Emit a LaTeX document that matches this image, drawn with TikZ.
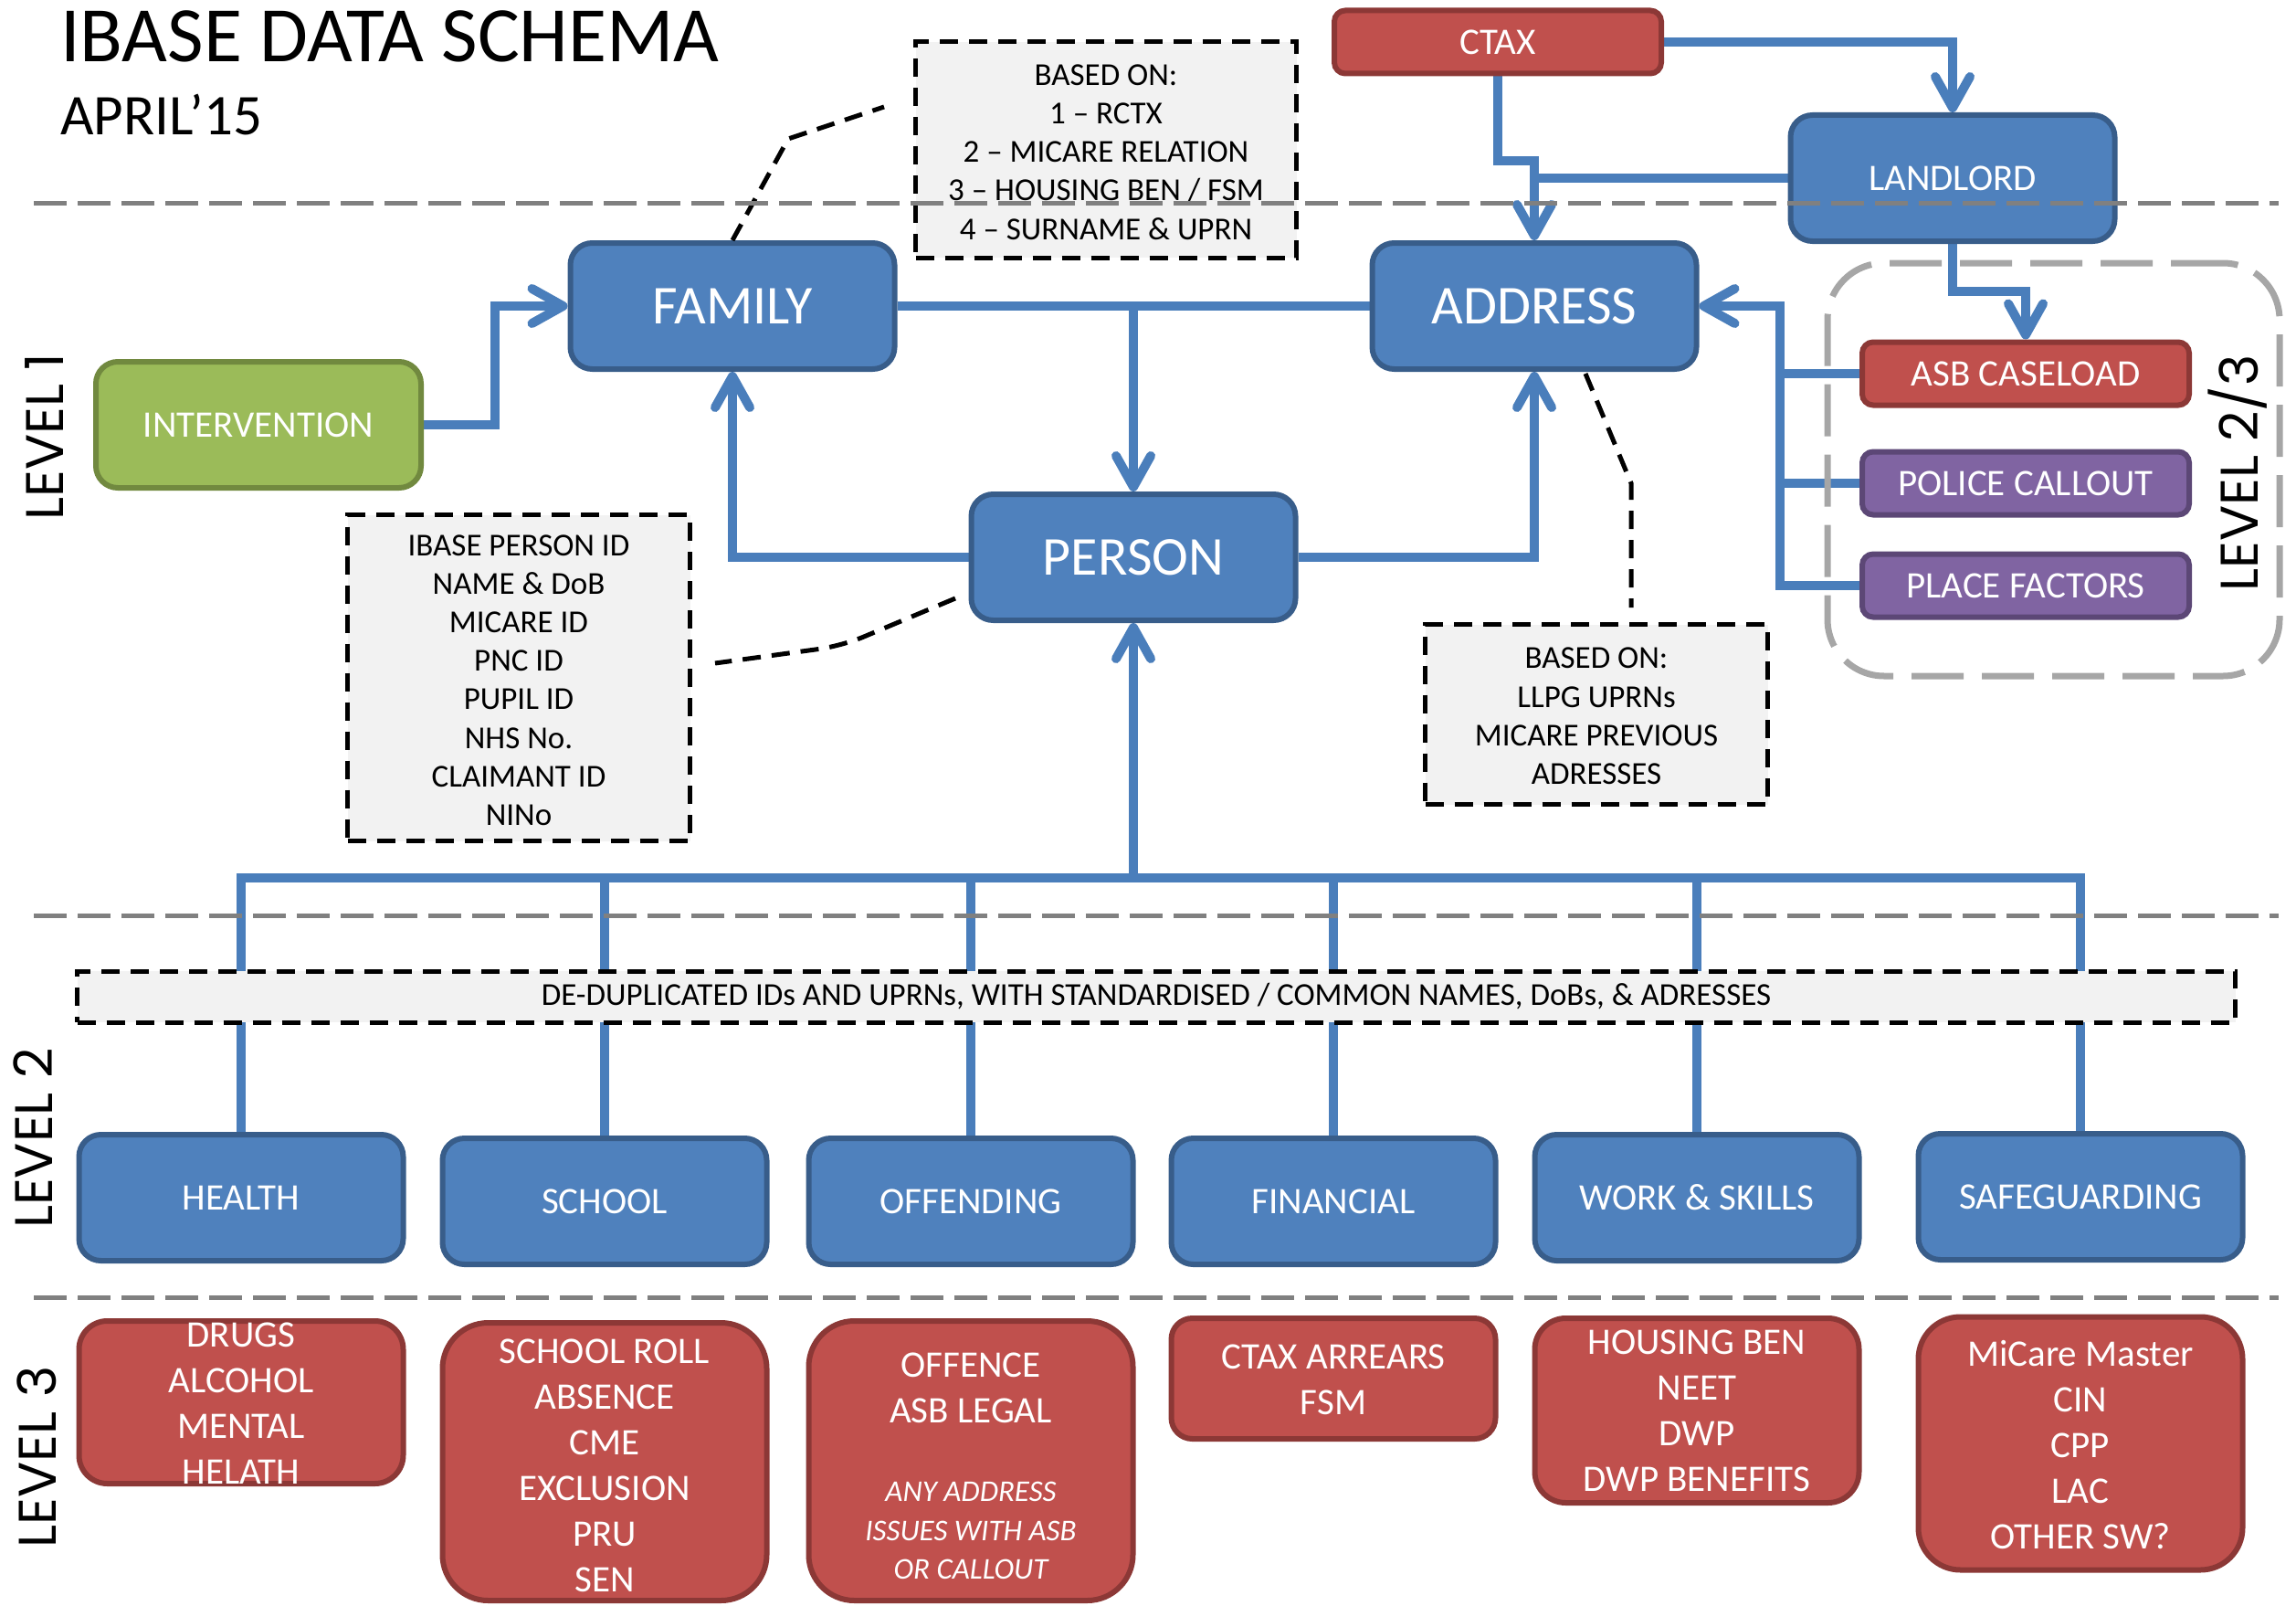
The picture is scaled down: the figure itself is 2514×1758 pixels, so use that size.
\documentclass[tikz,border=0pt]{standalone}
\usepackage{fontspec}
\setmainfont{Carlito}
\newfontfamily\lvlfont{Poppins}
\usetikzlibrary{arrows.meta,calc}
\pgfdeclarelayer{bg}
\pgfsetlayers{bg,main}
\definecolor{bfill}{HTML}{4F81BD}
\definecolor{bdraw}{HTML}{385D8A}
\definecolor{rfill}{HTML}{C0504D}
\definecolor{rdraw}{HTML}{8C3836}
\definecolor{gfill}{HTML}{9BBB59}
\definecolor{gdraw}{HTML}{71893F}
\definecolor{pfill}{HTML}{8064A2}
\definecolor{pdraw}{HTML}{5C4776}
\definecolor{conncol}{HTML}{4A7EBB}
\definecolor{notefill}{HTML}{F2F2F2}
\definecolor{lvlgray}{HTML}{808080}
\definecolor{grpgray}{HTML}{A6A6A6}
\begin{document}
\begin{tikzpicture}[x=1pt,y=-1pt,
  box/.style={rectangle, line width=6pt, inner sep=0pt, text=white, align=center, font=\fontsize{41}{50}\selectfont},
  bluebox/.style={box, draw=bdraw, fill=bfill, rounded corners=24pt, minimum width=355pt, minimum height=138pt},
  bigtext/.style={font=\fontsize{60}{60}\selectfont},
  redsmall/.style={box, draw=rdraw, fill=rfill, rounded corners=12pt, minimum width=358pt, minimum height=69pt},
  purplesmall/.style={box, draw=pdraw, fill=pfill, rounded corners=12pt, minimum width=358pt, minimum height=69pt},
  greenbox/.style={box, draw=gdraw, fill=gfill, rounded corners=24pt, minimum width=356pt, minimum height=138pt},
  redbig/.style={box, draw=rdraw, fill=rfill, minimum width=355pt},
  notebox/.style={rectangle, draw=black, fill=notefill, line width=5pt, dash pattern=on 20pt off 12pt, inner sep=0pt},
  notetext/.style={align=center, inner sep=0pt, font=\fontsize{35}{42.2}\selectfont},
  redtext/.style={align=center, inner sep=0pt, text=white, font=\fontsize{41}{50}\selectfont},
  conn/.style={draw=conncol, line width=10pt},
  arr/.style={-{Straight Barb[length=34pt,width=38pt,round]}},
  noteline/.style={draw=black, line width=5pt, dash pattern=on 20pt off 12pt},
  lvlline/.style={draw=lvlgray, line width=5pt, dash pattern=on 36pt off 12pt},
  grpbox/.style={draw=grpgray, line width=7pt, dash pattern=on 57pt off 20pt, rounded corners=62pt, minimum width=495pt, minimum height=452pt, inner sep=0pt},
  lvltext/.style={rotate=90, inner sep=0pt, font=\lvlfont\fontsize{58}{58}\selectfont},
]
\useasboundingbox (0,0) rectangle (2514,1758);

% titles
\node[anchor=base west, inner sep=0pt, font=\fontsize{86}{86}\selectfont] (title) at (66,68) {IBASE DATA SCHEMA};
\node[anchor=base west, inner sep=0pt, font=\fontsize{63}{63}\selectfont] (date) at (66,148) {APRIL’15};

% level labels
\node[lvltext] (lv1) at (49,478) {LEVEL 1};
\node[lvltext] (lv2) at (36,1246) {LEVEL 2};
\node[lvltext] (lv3) at (40,1595) {LEVEL 3};
\node[lvltext] (lv23) at (2450,518) {LEVEL 2/3};

% level 1
\node[bluebox, bigtext] (family) at (802,335) {FAMILY};
\node[bluebox, bigtext] (address) at (1680,335) {ADDRESS};
\node[bluebox, bigtext] (person) at (1241,610) {PERSON};
\node[bluebox] (landlord) at (2138,195) {LANDLORD};
\node[redsmall] (ctax) at (1640,46) {CTAX};
\node[greenbox] (intervention) at (283,465) {INTERVENTION};
\node[redsmall] (asb) at (2218,409) {ASB CASELOAD};
\node[purplesmall] (police) at (2218,529) {POLICE CALLOUT};
\node[purplesmall] (place) at (2218,641) {PLACE FACTORS};

% note boxes
\node[notebox, minimum width=417pt, minimum height=236pt] (basedon1) at (1211,164) {};
\node[notetext] (basedon1t) at (1211,166.5) {BASED ON:\\1 – RCTX\\2 – MICARE RELATION\\3 – HOUSING BEN / FSM\\4 – SURNAME \& UPRN};
\node[notebox, minimum width=375pt, minimum height=357pt] (ibase) at (568,742) {};
\node[notetext] (ibaset) at (568,744.5) {IBASE PERSON ID\\NAME \& DoB\\MICARE ID\\PNC ID\\PUPIL ID\\NHS No.\\CLAIMANT ID\\NINo};
\node[notebox, minimum width=375pt, minimum height=197pt] (basedon2) at (1748,782) {};
\node[notetext] (basedon2t) at (1748,784) {BASED ON:\\LLPG UPRNs\\MICARE PREVIOUS\\ADRESSES};

% level 2
\node[bluebox] (health) at (264,1311) {HEALTH};
\node[bluebox] (school) at (662,1315) {SCHOOL};
\node[bluebox] (offending) at (1063,1315) {OFFENDING};
\node[bluebox] (financial) at (1460,1315) {FINANCIAL};
\node[bluebox] (work) at (1858,1311) {WORK \& SKILLS};
\node[bluebox] (safe) at (2278,1310) {SAFEGUARDING};

% level 3
\node[redbig, minimum height=178pt, rounded corners=31pt] (drugs) at (264,1535) {};
\node[redtext] (drugst) at (264,1536.5) {DRUGS\\ALCOHOL\\MENTAL\\HELATH};
\node[redbig, minimum height=304pt, rounded corners=50pt] (roll) at (662,1600) {};
\node[redtext] (rollt) at (662,1604) {SCHOOL ROLL\\ABSENCE\\CME\\EXCLUSION\\PRU\\SEN};
\node[redbig, minimum height=306pt, rounded corners=50pt] (offence) at (1063,1599) {};
\node[redtext] (offencet) at (1063,1519) {OFFENCE\\ASB LEGAL};
\node[redtext, font=\itshape\fontsize{33}{42.5}\selectfont] (offencei) at (1063,1675.5) {ANY ADDRESS\\ISSUES WITH ASB\\OR CALLOUT};
\node[redbig, minimum height=132pt, rounded corners=23pt] (arrears) at (1460,1509) {};
\node[redtext] (arrearst) at (1460,1510) {CTAX ARREARS\\FSM};
\node[redbig, minimum height=202pt, rounded corners=34pt] (housing) at (1858,1544) {};
\node[redtext] (housingt) at (1858,1544.5) {HOUSING BEN\\NEET\\DWP\\DWP BENEFITS};
\node[redbig, minimum height=277pt, rounded corners=46pt] (micare) at (2278,1580) {};
\node[redtext] (micaret) at (2278,1581.5) {MiCare Master\\CIN\\CPP\\LAC\\OTHER SW?};

% connectors (behind boxes)
\coordinate (jv) at (1949,335);
\coordinate (bus) at (1241,961);
\begin{pgfonlayer}{bg}
 \draw[conn,arr] (intervention.east) -- ++(78,0) |- (family.west);
 \draw[conn] (family.east) -- (address.west);
 \draw[conn,arr] (family.east -| person.north) -- (person.north);
 \draw[conn,arr] (person.west) -| (family.south);
 \draw[conn,arr] (person.east) -| (address.south);
 \draw[conn,arr] (ctax.east) -| (landlord.north);
 \draw[conn,arr] (ctax.south) -- ++(0,92) -| (address.north);
 \draw[conn] (landlord.west) -- (landlord.west -| address.north);
 \draw[conn,arr] (landlord.south) -- ++(0,52) -| (asb.north);
 \draw[conn,arr] (place.west) -| (jv) -- (address.east);
 \draw[conn] (asb.west) -- (asb.west -| jv);
 \draw[conn] (police.west) -- (police.west -| jv);
 \draw[conn,arr] (bus) -- (person.south);
 \draw[conn] (health.north) -- (health.north |- bus) -- (safe.north |- bus) -- (safe.north);
 \foreach \n in {school,offending,financial,work} \draw[conn] (\n.north |- bus) -- (\n.north);
\end{pgfonlayer}

% dedup bar (over the verticals)
\node[notebox, minimum width=2363pt, minimum height=56pt, font=\fontsize{35}{35}\selectfont] (dedup) at (1266,1091) {DE-DUPLICATED IDs AND UPRNs, WITH STANDARDISED / COMMON NAMES, DoBs, \& ADRESSES};

% note connectors
\coordinate (n1mid) at (863,152);
\coordinate (n1end) at (968,117);
\draw[noteline] (family.north) -- (n1mid) -- (n1end);
\coordinate (n2start) at (1046,655);
\coordinate (n2mid) at (922,707);
\coordinate (n2end) at (783,726);
\draw[noteline, rounded corners=25pt] (n2start) -- (n2mid) -- (n2end);
\coordinate (n3start) at (1736,409);
\coordinate (n3mid) at (1786,529);
\coordinate (n3end) at (1786,665);
\draw[noteline] (n3start) -- (n3mid) -- (n3end);

% group frame
\node[grpbox] (grp) at (2248.5,514) {};

% level separators
\draw[lvlline] (37,222) -- (2495,222);
\draw[lvlline] (37,1002) -- (2495,1002);
\draw[lvlline] (37,1420) -- (2495,1420);
\end{tikzpicture}
\end{document}
